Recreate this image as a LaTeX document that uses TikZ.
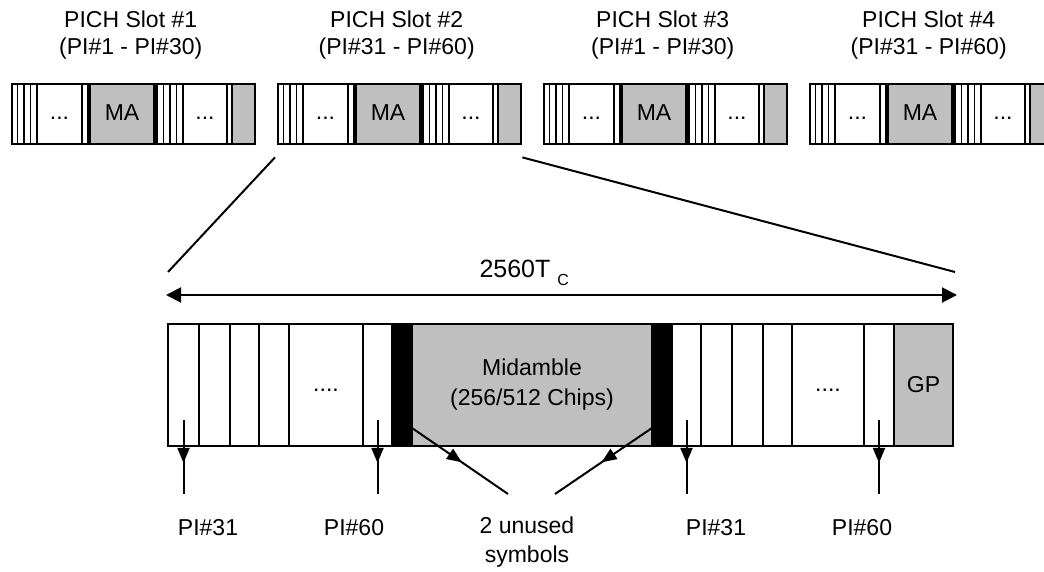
\documentclass[tikz,border=0pt]{standalone}
\usepackage{fontspec}
\setmainfont{Liberation Sans}
\usetikzlibrary{arrows.meta, positioning, calc, decorations.markings}

\begin{document}
\begin{tikzpicture}[x=1pt, y=-1pt, font=\fontsize{23}{27}\selectfont]
                \tikzset{
                    cell/.style={draw, line width=2pt, minimum height=122pt, inner sep=0pt, outer sep=0pt, anchor=north west},
                    slottitle/.style={align=center, inner sep=0pt},
                    midarrow/.style={postaction={decorate}, decoration={markings, mark=at position #1 with {\arrow{Triangle[length=15pt, width=12pt]}}}},
                    pichslot/.pic={
                        \fill[gray!50] (80,0) rectangle (142,60);
                        \fill[gray!50] (221,0) rectangle (243,60);
                        \fill (76,0) rectangle (80,60);
                        \fill (142,0) rectangle (146,60);
                        \foreach \u in {6.5,13,19.5,26,71,146,152.5,159,165.5,172,216,221}
                            \draw[line width=1.6pt] (\u,0) -- (\u,60);
                        \node[anchor=base] at (48.5,37) {...};
                        \node at (111,30) {MA};
                        \node[anchor=base] at (194,37) {...};
                        \node[draw, line width=2.4pt, minimum width=243pt, minimum height=60pt, inner sep=0pt, anchor=north west] (-box) at (0,0) {};
                    }
                }
                \useasboundingbox (0,0) rectangle (1044,572);

                % the four PICH slots
                \pic (s1) at (11,83)  {pichslot};
                \pic (s2) at (277,83) {pichslot};
                \pic (s3) at (543,83) {pichslot};
                \pic (s4) at (809,83) {pichslot};

                \node[slottitle, above=24pt of s1-box, xshift=-3pt] (t1) {PICH Slot \#1\\(PI\#1 - PI\#30)};
                \node[slottitle, above=24pt of s2-box, xshift=-3pt] (t2) {PICH Slot \#2\\(PI\#31 - PI\#60)};
                \node[slottitle, above=24pt of s3-box, xshift=-3pt] (t3) {PICH Slot \#3\\(PI\#1 - PI\#30)};
                \node[slottitle, above=24pt of s4-box, xshift=-3pt] (t4) {PICH Slot \#4\\(PI\#31 - PI\#60)};

                % expanded slot
                \node[cell, minimum width=31pt] (c1) at (168,324) {};
                \node[cell, minimum width=31pt] (c2) at (199,324) {};
                \node[cell, minimum width=29pt] (c3) at (230,324) {};
                \node[cell, minimum width=30pt] (c4) at (259,324) {};
                \node[cell, minimum width=74pt] (c5) at (289,324) {};
                \node[cell, minimum width=29pt] (c6) at (363,324) {};
                \node[cell, fill=black, minimum width=20pt] (b1) at (392,324) {};
                \node[cell, fill=gray!50, minimum width=240pt, align=center, font=\fontsize{23}{30}\selectfont] (mid) at (412,324) {Midamble\\(256/512 Chips)};
                \node[cell, fill=black, minimum width=20pt] (b2) at (652,324) {};
                \node[cell, minimum width=29pt] (c7) at (672,324) {};
                \node[cell, minimum width=31pt] (c8) at (701,324) {};
                \node[cell, minimum width=31pt] (c9) at (732,324) {};
                \node[cell, minimum width=29pt] (c10) at (763,324) {};
                \node[cell, minimum width=72pt] (c11) at (792,324) {};
                \node[cell, minimum width=30pt] (c12) at (864,324) {};
                \node[cell, fill=gray!50, minimum width=59pt] (gp) at (894,324) {GP};
                \node[anchor=base, yshift=-6pt] (dots1) at (c5.center) {....};
                \node[anchor=base, yshift=-6pt] (dots2) at (c11.center) {....};

                % zoom lines and slot length
                \coordinate (zoomL) at (168,272);
                \coordinate (zoomR) at (955,272);
                \draw[line width=2pt] ($(s2-box.south west)+(-2,12)$) -- (zoomL);
                \draw[line width=2pt] ($(s2-box.south east)+(0,12)$) -- (zoomR);

                \coordinate (dimL) at (166,295);
                \coordinate (dimR) at (957,295);
                \draw[line width=2pt, {Triangle[length=15pt, width=15pt]}-{Triangle[length=15pt, width=15pt]}] (dimL) -- (dimR);
                \node[anchor=base west, font=\fontsize{25}{30}\selectfont] (dimtext) at (476,277) {2560T\hspace{7pt}\raisebox{-8pt}{\fontsize{16}{16}\selectfont C}};

                % paging indicators
                \coordinate (pi1) at ($(c1.south)+(0,48)$);
                \coordinate (pi2) at ($(c6.south)+(0,48)$);
                \coordinate (pi3) at ($(c7.south)+(0,48)$);
                \coordinate (pi4) at ($(c12.south)+(0,48)$);
                \draw[line width=2pt, midarrow=0.58] ($(c1.south)+(0,-26)$) -- (pi1);
                \draw[line width=2pt, midarrow=0.58] ($(c6.south)+(0,-26)$) -- (pi2);
                \draw[line width=2pt, midarrow=0.58] ($(c7.south)+(0,-26)$) -- (pi3);
                \draw[line width=2pt, midarrow=0.58] ($(c12.south)+(0,-26)$) -- (pi4);

                \node (l1) at (208,528) {PI\#31};
                \node (l2) at (354,528) {PI\#60};
                \node (l3) at (716,528) {PI\#31};
                \node (l4) at (862,528) {PI\#60};

                % unused symbols
                \coordinate (uL) at (508,494);
                \coordinate (uR) at (555,494);
                \draw[line width=2pt, midarrow=0.52] ($(b1.south east)+(0,-18)$) -- (uL);
                \draw[line width=2pt, midarrow=0.52] ($(b2.south west)+(0,-18)$) -- (uR);
                \node[align=center, font=\fontsize{23}{29}\selectfont] (unused) at (527,542) {2 unused\\symbols};
            \end{tikzpicture}
\end{document}
